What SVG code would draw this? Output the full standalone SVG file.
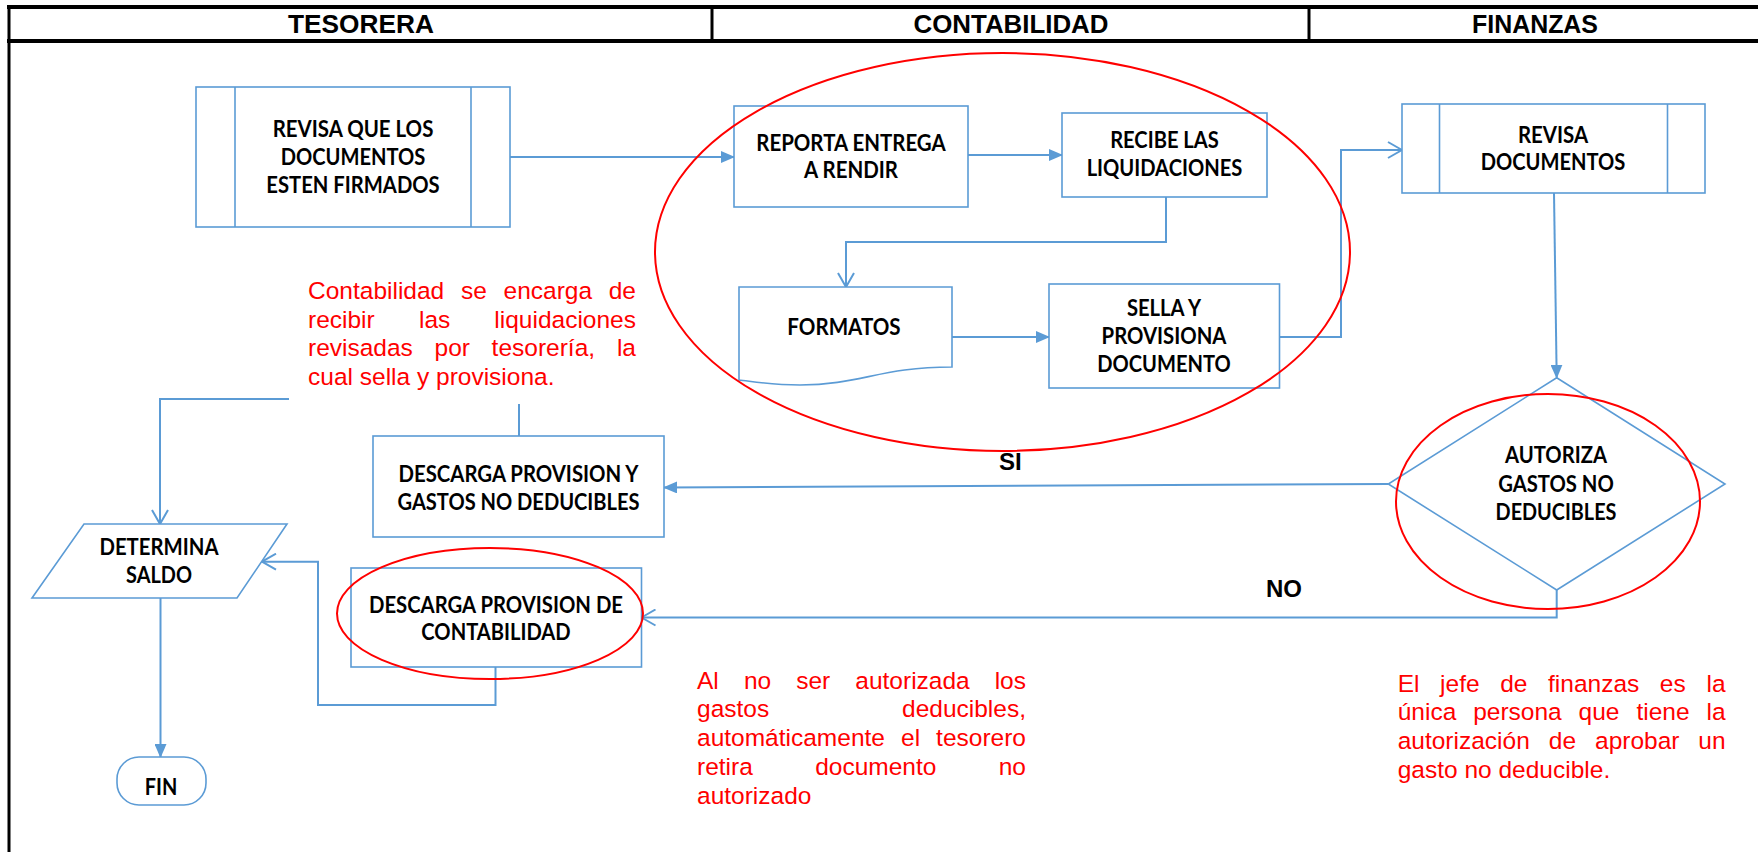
<svg xmlns="http://www.w3.org/2000/svg" width="1758" height="852" viewBox="0 0 1758 852">
<defs>
<style>
.frame{stroke:#000;fill:none}
.hdr{font-family:"Liberation Sans",Arial,sans-serif;font-weight:bold;font-size:25px;fill:#000;text-anchor:middle}
.shape{fill:#fff;stroke:#5B9BD5;stroke-width:1.6}
.lbl{font-family:Lato,"Carlito","Liberation Sans",sans-serif;font-weight:bold;font-size:23px;fill:#000;text-anchor:middle}
.conn{fill:none;stroke:#5B9BD5;stroke-width:2}
.edge{font-family:"Liberation Sans",Arial,sans-serif;font-weight:bold;font-size:24px;fill:#000}
.note{font-family:"Liberation Sans",Arial,sans-serif;font-size:24.5px;fill:#FF0000}
.end{text-anchor:end}
.mark{fill:none;stroke:#FF0000;stroke-width:2}
</style>
<marker id="fa" markerUnits="userSpaceOnUse" markerWidth="14" markerHeight="12" viewBox="0 0 14 12" refX="13" refY="6" orient="auto">
<path d="M0,0 L14,6 L0,12 z" fill="#5B9BD5"/>
</marker>
<marker id="oa" markerUnits="userSpaceOnUse" markerWidth="16" markerHeight="18" viewBox="0 0 16 18" refX="15" refY="9" orient="auto">
<path d="M1,1 L15,9 L1,17" fill="none" stroke="#5B9BD5" stroke-width="2"/>
</marker>
</defs>
<rect width="1758" height="852" fill="#fff"/>
<g id="header">
<line class="frame" x1="7" y1="7" x2="1758" y2="7" stroke-width="4"/>
<line class="frame" x1="7" y1="41" x2="1758" y2="41" stroke-width="4"/>
<line class="frame" x1="9" y1="5" x2="9" y2="852" stroke-width="3"/>
<line class="frame" x1="712" y1="7" x2="712" y2="41" stroke-width="3"/>
<line class="frame" x1="1309" y1="7" x2="1309" y2="41" stroke-width="3"/>
<text class="hdr" x="361" y="33" textLength="146" lengthAdjust="spacingAndGlyphs">TESORERA</text>
<text class="hdr" x="1011" y="33" textLength="195" lengthAdjust="spacingAndGlyphs">CONTABILIDAD</text>
<text class="hdr" x="1535" y="33" textLength="126" lengthAdjust="spacingAndGlyphs">FINANZAS</text>
</g>
<g id="connectors">
<path class="conn" d="M510 157 H734" marker-end="url(#fa)"/>
<path class="conn" d="M968 155 H1062" marker-end="url(#fa)"/>
<path class="conn" d="M1166 197 V242 H846 V287" marker-end="url(#oa)"/>
<path class="conn" d="M952 337 H1049" marker-end="url(#fa)"/>
<path class="conn" d="M1280 337 H1341 V150 H1402" marker-end="url(#oa)"/>
<path class="conn" d="M1554 193 L1556.7 377.7" marker-end="url(#fa)"/>
<path class="conn" d="M1388.3 484 L664 487.5" marker-end="url(#fa)"/>
<path class="conn" d="M1556.7 590 V617.5 H641.5" marker-end="url(#oa)"/>
<path class="conn" d="M495.5 667 V705 H318 V561.7 H262" marker-end="url(#oa)"/>
<path class="conn" d="M519 436 V399 H160 V524" marker-end="url(#oa)"/>
<path class="conn" d="M160.5 598 V757" marker-end="url(#fa)"/>
<text class="edge" x="999" y="470">SI</text>
<text class="edge" x="1266" y="597">NO</text>
</g>
<g id="n1">
<rect class="shape" x="196" y="87" width="314" height="140"/>
<line class="shape" x1="235" y1="87" x2="235" y2="227"/>
<line class="shape" x1="471" y1="87" x2="471" y2="227"/>
<text class="lbl" x="353" y="137" textLength="160.7" lengthAdjust="spacingAndGlyphs">REVISA QUE LOS</text>
<text class="lbl" x="353" y="165" textLength="144.6" lengthAdjust="spacingAndGlyphs">DOCUMENTOS</text>
<text class="lbl" x="353" y="193" textLength="173.4" lengthAdjust="spacingAndGlyphs">ESTEN FIRMADOS</text>
</g>
<g id="n2">
<rect class="shape" x="734" y="106" width="234" height="101"/>
<text class="lbl" x="851" y="151" textLength="189.5" lengthAdjust="spacingAndGlyphs">REPORTA ENTREGA</text>
<text class="lbl" x="851" y="178" textLength="94" lengthAdjust="spacingAndGlyphs">A RENDIR</text>
</g>
<g id="n3">
<rect class="shape" x="1062" y="113" width="205" height="84"/>
<text class="lbl" x="1164.5" y="148" textLength="108.7" lengthAdjust="spacingAndGlyphs">RECIBE LAS</text>
<text class="lbl" x="1164.5" y="176" textLength="155.7" lengthAdjust="spacingAndGlyphs">LIQUIDACIONES</text>
</g>
<g id="n4">
<rect class="shape" x="1402" y="104" width="303" height="89"/>
<line class="shape" x1="1439.5" y1="104" x2="1439.5" y2="193"/>
<line class="shape" x1="1667.5" y1="104" x2="1667.5" y2="193"/>
<text class="lbl" x="1553" y="143" textLength="70.2" lengthAdjust="spacingAndGlyphs">REVISA</text>
<text class="lbl" x="1553" y="170" textLength="144.6" lengthAdjust="spacingAndGlyphs">DOCUMENTOS</text>
</g>
<g id="n5">
<path class="shape" d="M739 287 H952 V367 C880 367 860 385 800 385 C770 385 750 381 739 380 Z"/>
<text class="lbl" x="844" y="335" textLength="113.3" lengthAdjust="spacingAndGlyphs">FORMATOS</text>
</g>
<g id="n6">
<rect class="shape" x="1049" y="284" width="230.5" height="104"/>
<text class="lbl" x="1164" y="316" textLength="74.2" lengthAdjust="spacingAndGlyphs">SELLA Y</text>
<text class="lbl" x="1164" y="344" textLength="124.8" lengthAdjust="spacingAndGlyphs">PROVISIONA</text>
<text class="lbl" x="1164" y="372" textLength="133.5" lengthAdjust="spacingAndGlyphs">DOCUMENTO</text>
</g>
<g id="n7">
<polygon class="shape" points="1556.7,377.7 1725,484 1556.7,590 1388.3,484"/>
<text class="lbl" x="1556" y="463" textLength="102.1" lengthAdjust="spacingAndGlyphs">AUTORIZA</text>
<text class="lbl" x="1556" y="491.5" textLength="115.6" lengthAdjust="spacingAndGlyphs">GASTOS NO</text>
<text class="lbl" x="1556" y="519.5" textLength="120.8" lengthAdjust="spacingAndGlyphs">DEDUCIBLES</text>
</g>
<g id="n8">
<rect class="shape" x="373" y="436" width="291" height="101"/>
<text class="lbl" x="518.5" y="482" textLength="240" lengthAdjust="spacingAndGlyphs">DESCARGA PROVISION Y</text>
<text class="lbl" x="518.5" y="509.5" textLength="242" lengthAdjust="spacingAndGlyphs">GASTOS NO DEDUCIBLES</text>
</g>
<g id="n9">
<polygon class="shape" points="84,524 287,524 237,598 32,598"/>
<text class="lbl" x="159" y="555" textLength="119" lengthAdjust="spacingAndGlyphs">DETERMINA</text>
<text class="lbl" x="159" y="583" textLength="66" lengthAdjust="spacingAndGlyphs">SALDO</text>
</g>
<g id="n10">
<rect class="shape" x="351" y="568" width="290.5" height="99"/>
<text class="lbl" x="496" y="613" textLength="254" lengthAdjust="spacingAndGlyphs">DESCARGA PROVISION DE</text>
<text class="lbl" x="496" y="640" textLength="149.3" lengthAdjust="spacingAndGlyphs">CONTABILIDAD</text>
</g>
<g id="n11">
<rect class="shape" x="117" y="757" width="89" height="48" rx="22" ry="22"/>
<text class="lbl" x="161" y="795" textLength="32.5" lengthAdjust="spacingAndGlyphs">FIN</text>
</g>
<g id="note1">
<rect x="289" y="268" width="358" height="136" fill="#fff"/>
<text class="note" x="308" y="299">Contabilidad</text>
<text class="note" x="461" y="299">se</text>
<text class="note" x="503.5" y="299">encarga</text>
<text class="note end" x="636" y="299">de</text>
<text class="note" x="308" y="327.5">recibir</text>
<text class="note" x="419" y="327.5">las</text>
<text class="note end" x="636" y="327.5">liquidaciones</text>
<text class="note" x="308" y="356">revisadas</text>
<text class="note" x="434.5" y="356">por</text>
<text class="note" x="491.6" y="356">tesorería,</text>
<text class="note end" x="636" y="356">la</text>
<text class="note" x="308" y="385">cual sella y provisiona.</text>
</g>
<g id="note2">
<text class="note" x="697" y="688.5">Al</text>
<text class="note" x="743.9" y="688.5">no</text>
<text class="note" x="796.2" y="688.5">ser</text>
<text class="note" x="855.3" y="688.5">autorizada</text>
<text class="note end" x="1026" y="688.5">los</text>
<text class="note" x="697" y="717">gastos</text>
<text class="note end" x="1026" y="717">deducibles,</text>
<text class="note" x="697" y="746">automáticamente</text>
<text class="note" x="901" y="746">el</text>
<text class="note end" x="1026" y="746">tesorero</text>
<text class="note" x="697" y="775">retira</text>
<text class="note" x="815.2" y="775">documento</text>
<text class="note end" x="1026" y="775">no</text>
<text class="note" x="697" y="803.5">autorizado</text>
</g>
<g id="note3">
<text class="note" x="1397.7" y="691.5">El</text>
<text class="note" x="1440.1" y="691.5">jefe</text>
<text class="note" x="1500.2" y="691.5">de</text>
<text class="note" x="1548" y="691.5">finanzas</text>
<text class="note" x="1659.8" y="691.5">es</text>
<text class="note end" x="1725.6" y="691.5">la</text>
<text class="note" x="1397.7" y="720">única</text>
<text class="note" x="1473.2" y="720">persona</text>
<text class="note" x="1578.6" y="720">que</text>
<text class="note" x="1636.4" y="720">tiene</text>
<text class="note end" x="1725.6" y="720">la</text>
<text class="note" x="1397.7" y="749">autorización</text>
<text class="note" x="1548.8" y="749">de</text>
<text class="note" x="1595" y="749">aprobar</text>
<text class="note end" x="1725.6" y="749">un</text>
<text class="note" x="1397.7" y="778">gasto no deducible.</text>
</g>
<g id="highlights">
<ellipse class="mark" cx="1002.5" cy="252" rx="347.5" ry="199"/>
<ellipse class="mark" cx="1548" cy="501.5" rx="152" ry="107.5"/>
<ellipse class="mark" cx="490" cy="613.5" rx="153" ry="65.5"/>
</g>
</svg>
